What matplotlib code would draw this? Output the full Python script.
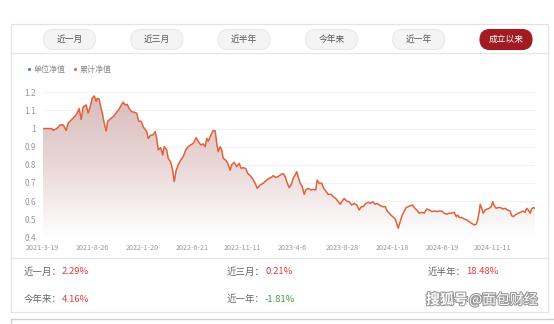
import numpy as np
import matplotlib.pyplot as plt
import matplotlib.patheffects as pe
from matplotlib.patches import FancyBboxPatch, Rectangle
from matplotlib.colors import LinearSegmentedColormap

plt.rcParams['font.family'] = ['Noto Sans CJK SC', 'DejaVu Sans']

# trading-day index and cumulative NAV
day = [0, 18, 21, 28, 35, 41, 47, 51, 58, 65, 69, 73, 77, 81, 87, 91, 95, 99,
       103, 107, 109, 113, 116, 120, 123, 127, 130, 135, 141, 148, 153, 158,
       161, 165, 169, 173, 178, 183, 188, 192, 197, 201, 208, 211, 216, 220,
       225, 228, 231, 236, 240, 243, 248, 251, 256, 260, 263, 267, 271, 276,
       281, 286, 291, 296, 301, 307, 311, 316, 321, 325, 328, 331, 335, 338,
       341, 345, 348, 351, 355, 358, 361, 366, 370, 375, 378, 383, 388, 393,
       397, 401, 406, 410, 415, 419, 425, 429, 435, 441, 448, 453, 457, 461,
       466, 471, 477, 481, 485, 488, 493, 497, 501, 505, 508, 511, 515, 519,
       523, 526, 531, 537, 541, 546, 549, 553, 558, 562, 566, 571, 577, 581,
       586, 590, 595, 598, 603, 608, 613, 618, 623, 628, 633, 637, 641, 646,
       651, 655, 660, 665, 669, 675, 680, 685, 689, 695, 700, 705, 708, 711,
       715, 718, 723, 727, 731, 736, 740, 743, 748, 753, 758, 763, 768, 773,
       778, 783, 788, 793, 798, 803, 808, 813, 818, 823, 827, 830, 833, 838,
       843, 848, 853, 858, 863, 867, 870, 873, 875, 878, 881, 885, 889, 893,
       897, 900, 903, 907, 911, 916, 920, 925, 929, 935, 938, 941, 947, 951,
       956, 960, 965, 968, 971, 975, 978, 981, 984]
nav = [1.0, 1.0, 0.99, 1.0, 1.02, 1.02, 0.99, 1.03, 1.05, 1.07, 1.085, 1.11,
       1.05, 1.12, 1.13, 1.085, 1.12, 1.167, 1.18, 1.15, 1.167, 1.163, 1.12,
       1.075, 1.03, 0.987, 1.04, 1.053, 1.066, 1.09, 1.108, 1.134, 1.145,
       1.13, 1.134, 1.11, 1.093, 1.09, 1.085, 1.04, 1.04, 1.01, 0.983, 0.946,
       0.964, 0.964, 0.983, 0.946, 0.882, 0.895, 0.854, 0.9, 0.882, 0.836,
       0.814, 0.77, 0.707, 0.77, 0.8, 0.826, 0.845, 0.882, 0.9, 0.91, 0.918,
       0.95, 0.93, 0.91, 0.915, 0.9, 0.946, 0.93, 0.955, 0.974, 0.99, 0.987,
       0.92, 0.873, 0.9, 0.882, 0.836, 0.826, 0.808, 0.77, 0.8, 0.814, 0.79,
       0.808, 0.78, 0.784, 0.78, 0.753, 0.74, 0.726, 0.698, 0.67, 0.689,
       0.698, 0.716, 0.726, 0.73, 0.74, 0.73, 0.735, 0.748, 0.751, 0.735,
       0.707, 0.674, 0.689, 0.726, 0.744, 0.762, 0.735, 0.698, 0.68, 0.637,
       0.661, 0.67, 0.661, 0.665, 0.661, 0.716, 0.698, 0.698, 0.67, 0.656,
       0.637, 0.637, 0.624, 0.615, 0.6, 0.582, 0.596, 0.615, 0.6, 0.596,
       0.578, 0.587, 0.578, 0.551, 0.569, 0.569, 0.587, 0.593, 0.587, 0.596,
       0.582, 0.587, 0.575, 0.569, 0.569, 0.545, 0.527, 0.514, 0.501, 0.477,
       0.45, 0.486, 0.514, 0.545, 0.564, 0.569, 0.575, 0.578, 0.564, 0.551,
       0.533, 0.538, 0.533, 0.556, 0.551, 0.542, 0.545, 0.542, 0.545, 0.545,
       0.533, 0.527, 0.533, 0.533, 0.538, 0.514, 0.523, 0.509, 0.509, 0.501,
       0.496, 0.486, 0.477, 0.468, 0.472, 0.496, 0.542, 0.582, 0.56, 0.533,
       0.551, 0.556, 0.56, 0.569, 0.596, 0.575, 0.56, 0.564, 0.564, 0.556,
       0.56, 0.551, 0.545, 0.519, 0.514, 0.527, 0.533, 0.538, 0.545, 0.538,
       0.56, 0.551, 0.533, 0.556, 0.564, 0.56]
last_day = 984

tick_days = [0, 100, 200, 300, 400, 500, 600, 700, 800, 900]
tick_labels = ['2021-3-19', '2021-8-26', '2022-1-20', '2022-6-21', '2022-11-11',
               '2023-4-6', '2023-8-28', '2024-1-18', '2024-6-19', '2024-11-11']
y_ticks = [0.4, 0.5, 0.6, 0.7, 0.8, 0.9, 1.0, 1.1, 1.2]
y_labels = ['0.4', '0.5', '0.6', '0.7', '0.8', '0.9', '1', '1.1', '1.2']

buttons = ['近一月', '近三月', '近半年', '今年来', '近一年', '成立以来']
active = '成立以来'
legend_names = ['单位净值', '累计净值']
legend_colors = ['#3b7dd8', '#e8643c']

stat_names = ['近一月', '近三月', '近半年', '今年来', '近一年', '成立以来']
stat_values = ['2.29%', '0.21%', '18.48%', '4.16%', '-1.81%', '-42.71%']

line_color = '#e0623c'
red = '#e53935'
green = '#3a9d3a'

fig = plt.figure(figsize=(5.54, 3.24), dpi=100)

# page decorations in pixel coordinates
bg = fig.add_axes([0, 0, 1, 1], zorder=0)
bg.set_xlim(0, 554)
bg.set_ylim(324, 0)
bg.axis('off')

bg.add_patch(Rectangle((11, 24), 537, 288, fill=False, ec='#e3e3e3', lw=0.9))
bg.plot([11, 548], [53, 53], color='#e6e6e6', lw=0.9)
bg.plot([11, 548], [258, 258], color='#e6e6e6', lw=0.9)
bg.plot([11, 554], [319, 319], color='#cfcfcf', lw=1.0)
bg.plot([11, 11], [319, 324], color='#cfcfcf', lw=1.0)

for i, name in enumerate(buttons):
    cx = 69.5 + i * 87.3
    on = name == active
    bg.add_patch(FancyBboxPatch((cx - 26, 29.5), 52, 20, boxstyle='round,pad=0,rounding_size=10',
                                fc='#a11c22' if on else '#f4f4f4',
                                ec='#a11c22' if on else '#e9e9e9', lw=0.8))
    bg.text(cx, 39.5, name, ha='center', va='center', fontsize=6.3,
            color='white' if on else '#555555')

lx = 29
for name, c in zip(legend_names, legend_colors):
    bg.plot(lx, 69, 'o', ms=2.2, color=c, mec='none')
    bg.text(lx + 5, 69, name, ha='left', va='center', fontsize=5.8, color='#8a8a8a')
    lx += 46

cols = [24, 227, 428]
rows = [272, 299]
for k, (name, val) in enumerate(zip(stat_names, stat_values)):
    x = cols[k % 3]
    y = rows[k // 3]
    t = bg.text(x, y, name + '：', ha='left', va='center', fontsize=6.8, color='#666666')
    fig.canvas.draw()
    bb = t.get_window_extent().transformed(bg.transData.inverted())
    bg.text(bb.x1, y, val, ha='left', va='center', fontsize=6.8,
            color=green if val.startswith('-') else red)

# watermark laid over the last stat, as in the screenshot
wm = bg.text(426, 300, '搜狐号', ha='left', va='center', fontsize=10, color='white',
             style='italic', fontweight='bold', zorder=5)
wm.set_path_effects([pe.withStroke(linewidth=1.6, foreground='#9a9a9a')])
wm2 = bg.text(469, 300, '@面包财经', ha='left', va='center', fontsize=10, color='white', zorder=5)
wm2.set_path_effects([pe.withStroke(linewidth=1.6, foreground='#9a9a9a')])

# chart
ax = fig.add_axes([42.7 / 554, 1 - 237.3 / 324, 492 / 554, 145 / 324], zorder=1)
ax.patch.set_alpha(0)
ax.set_xlim(0, last_day)
ax.set_ylim(0.4, 1.2)
for s in ax.spines.values():
    s.set_visible(False)
ax.set_yticks(y_ticks)
ax.set_yticklabels(y_labels)
ax.set_xticks(tick_days)
ax.set_xticklabels(tick_labels)
ax.tick_params(axis='both', length=0, colors='#999999')
ax.tick_params(axis='y', labelsize=6.0, pad=5)
ax.tick_params(axis='x', labelsize=5.2, pad=5)
for v in y_ticks[1:]:
    ax.axhline(v, color='#f2f2f2', lw=0.8, zorder=0)

cmap = LinearSegmentedColormap.from_list('fade', ['#ffffff', '#ead8d8', '#dabbbb'])
grad = np.linspace(0, 1, 256).reshape(-1, 1)
img = ax.imshow(grad, extent=[0, last_day, 0.4, 1.18], origin='lower', aspect='auto',
                cmap=cmap, zorder=1)
area = ax.fill_between(day, nav, 0.4, facecolor='none', edgecolor='none')
img.set_clip_path(area.get_paths()[0], transform=ax.transData)
ax.plot(day, nav, color=line_color, lw=1.1, zorder=2, solid_joinstyle='round')

fig.savefig('out.png', dpi=100)
